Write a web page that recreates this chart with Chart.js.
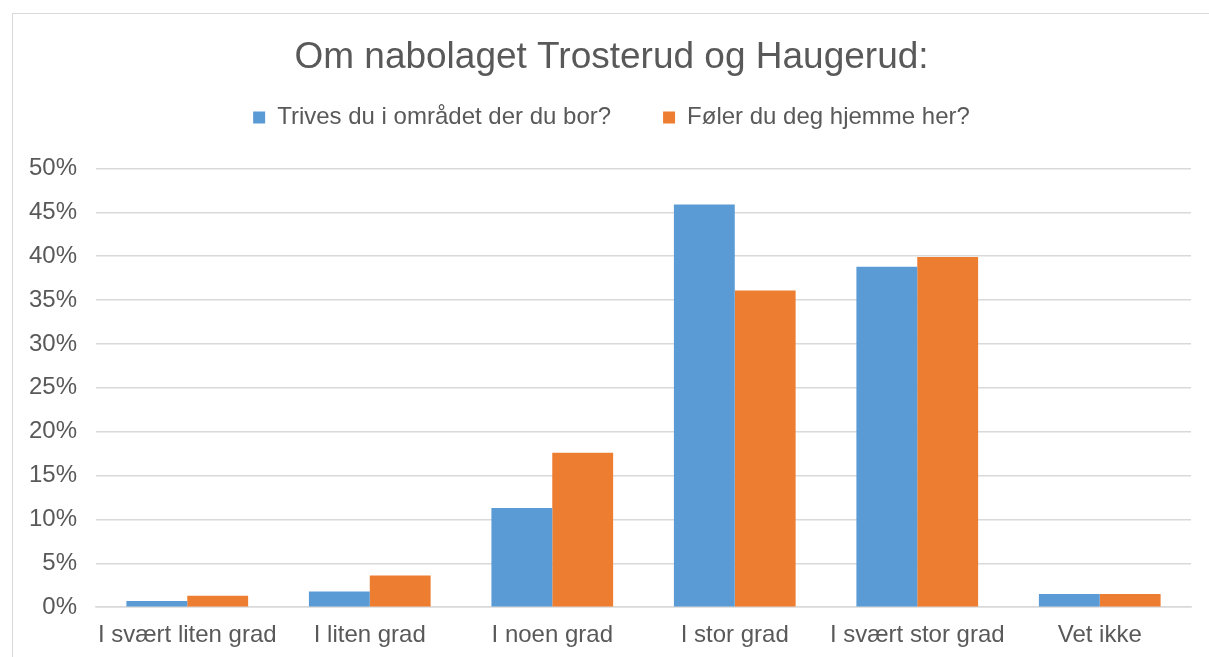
<!DOCTYPE html>
<html>
<head>
<meta charset="utf-8">
<script src="https://cdn.jsdelivr.net/npm/chart.js@4.4.0/dist/chart.umd.min.js"></script>
<style>
    body { margin: 0; background: #fff; }
    #wrap {
        position: absolute; left: 12px; top: 13px;
        width: 1200px; height: 650px;
        border: 1px solid #d9d9d9; border-right: none; border-bottom: none;
        background: #fff;
    }
</style>
</head>
<body>
<div id="wrap"><canvas id="chart"></canvas></div>
<script>
    const categories = ['I svært liten grad', 'I liten grad', 'I noen grad', 'I stor grad', 'I svært stor grad', 'Vet ikke'];
    const trivesValues = [0.7, 1.8, 11.3, 45.9, 38.8, 1.5];
    const folerValues = [1.3, 3.6, 17.6, 36.1, 39.9, 1.5];
    const seriesNames = ['Trives du i området der du bor?', 'Føler du deg hjemme her?'];
    const titleText = 'Om nabolaget Trosterud og Haugerud:';

    const ctx = document.getElementById('chart');
    ctx.width = 1200;
    ctx.height = 650;

    // extra space between legend and plot area
    const legendGap = {
        id: 'legendGap',
        beforeInit(chart) {
            const fit = chart.legend.fit;
            chart.legend.fit = function() {
                fit.bind(chart.legend)();
                this.height += 29;
            };
        }
    };

    new Chart(ctx, {
        type: 'bar',
        data: {
            labels: categories,
            datasets: [
                {
                    label: seriesNames[0],
                    data: trivesValues,
                    backgroundColor: '#5b9bd5'
                },
                {
                    label: seriesNames[1],
                    data: folerValues,
                    backgroundColor: '#ed7d31'
                }
            ]
        },
        plugins: [legendGap],
        options: {
            responsive: false,
            animation: false,
            datasets: {
                bar: { categoryPercentage: 0.667, barPercentage: 1.0 }
            },
            layout: { padding: { left: -3, right: 0, top: 22, bottom: 8 } },
            plugins: {
                title: {
                    display: true,
                    text: titleText,
                    color: '#595959',
                    font: { family: 'Liberation Sans', size: 37, weight: 'normal' },
                    padding: { top: 0, bottom: -27 }
                },
                legend: {
                    position: 'top',
                    labels: {
                        color: '#595959',
                        font: { family: 'Liberation Sans', size: 24 },
                        boxWidth: 12,
                        boxHeight: 12,
                        padding: 52
                    }
                },
                tooltip: { enabled: false }
            },
            scales: {
                x: {
                    grid: { display: false },
                    border: { color: '#d9d9d9', width: 1.5 },
                    ticks: {
                        color: '#595959',
                        font: { family: 'Liberation Sans', size: 24 },
                        padding: 6,
                        maxRotation: 0,
                        autoSkip: false
                    }
                },
                y: {
                    min: 0,
                    max: 50,
                    ticks: {
                        stepSize: 5,
                        color: '#595959',
                        font: { family: 'Liberation Sans', size: 24 },
                        padding: 19,
                        callback: function(v) { return v + '%'; }
                    },
                    grid: { color: '#d9d9d9', lineWidth: 1.5, drawTicks: false },
                    border: { display: false }
                },
                // empty axis that only reserves space on the right of the plot
                yRight: {
                    position: 'right',
                    grid: { display: false },
                    border: { display: false },
                    ticks: { display: false },
                    afterFit: function(scale) { scale.width = 22; }
                }
            }
        }
    });
</script>
</body>
</html>
